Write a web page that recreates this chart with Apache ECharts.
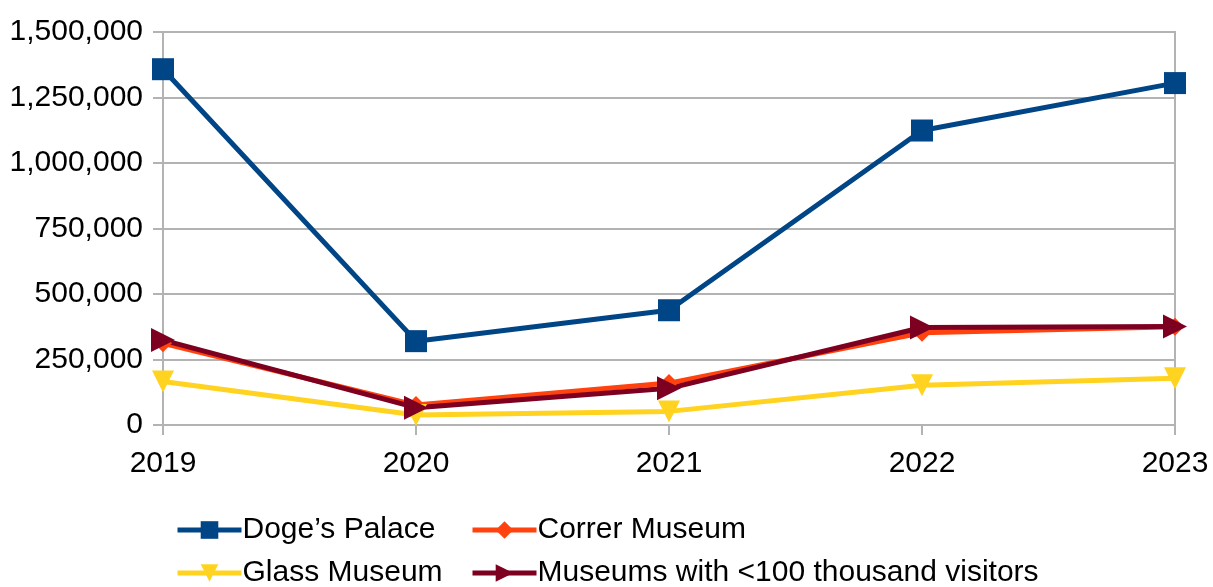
<!DOCTYPE html>
<html><head><meta charset="utf-8">
<script src="https://cdn.jsdelivr.net/npm/echarts@6/dist/echarts.min.js"></script>
<style>html,body{margin:0;padding:0;background:#fff}#c{width:1213px;height:587px}</style>
</head><body><div id="c"></div>
<script>
const years = ['2019','2020','2021','2022','2023'];
const dogesPalace = [1358000, 320000, 438000, 1124000, 1305000];
const correrMuseum = [312000, 76000, 160000, 352000, 375000];
const glassMuseum = [166000, 38000, 52000, 152000, 178000];
const smallMuseums = [324000, 66000, 140000, 372000, 376000];

const font = 'Liberation Sans, Arial, sans-serif';
const chart = echarts.init(document.getElementById('c'));
function s(name, data, color, symbol, size, rot){
  return {name, type:'line', data, symbol, symbolSize:size, symbolRotate:rot||0,
    lineStyle:{width:5,color}, itemStyle:{color}, color, showAllSymbol:true, animation:false};
}
const legendText = {color:'#000',fontFamily:font,fontSize:30,padding:[0,0,0,-4]};
function lg(name,left,top){
  return {data:[name],orient:'horizontal',left,top,padding:0,
    itemWidth:64,itemHeight:22,lineStyle:{width:5},textStyle:legendText};
}
chart.setOption({
  animation:false,
  grid:{left:163,right:38,top:32,bottom:162,show:true,borderColor:'#b3b3b3',borderWidth:2},
  xAxis:{type:'category',data:years,boundaryGap:false,
    axisLine:{show:true,lineStyle:{color:'#b3b3b3',width:2}},
    axisTick:{show:true,alignWithLabel:true,length:10,lineStyle:{color:'#b3b3b3',width:2}},
    splitLine:{show:false},
    axisLabel:{color:'#000',fontFamily:font,fontSize:30,margin:24}},
  yAxis:{type:'value',min:0,max:1500000,interval:250000,
    axisLine:{show:true,lineStyle:{color:'#b3b3b3',width:2}},
    axisTick:{show:true,length:10,lineStyle:{color:'#b3b3b3',width:2}},
    splitLine:{lineStyle:{color:'#b3b3b3',width:2}},
    axisLabel:{color:'#000',fontFamily:font,fontSize:30,margin:20,
      formatter:v=>v.toLocaleString('en-US')}},
  legend:[
    lg('Doge’s Palace',175,515),
    lg('Correr Museum',470,515),
    lg('Glass Museum',175,558),
    lg('Museums with <100 thousand visitors',470,558)
  ],
  series:[
    s('Doge’s Palace',dogesPalace,'#004586','rect',22),
    s('Correr Museum',correrMuseum,'#ff420e','diamond',18),
    s('Glass Museum',glassMuseum,'#ffd320','triangle',22,180),
    s('Museums with <100 thousand visitors',smallMuseums,'#7e0021','triangle',24,-90)
  ]
});
</script></body></html>
